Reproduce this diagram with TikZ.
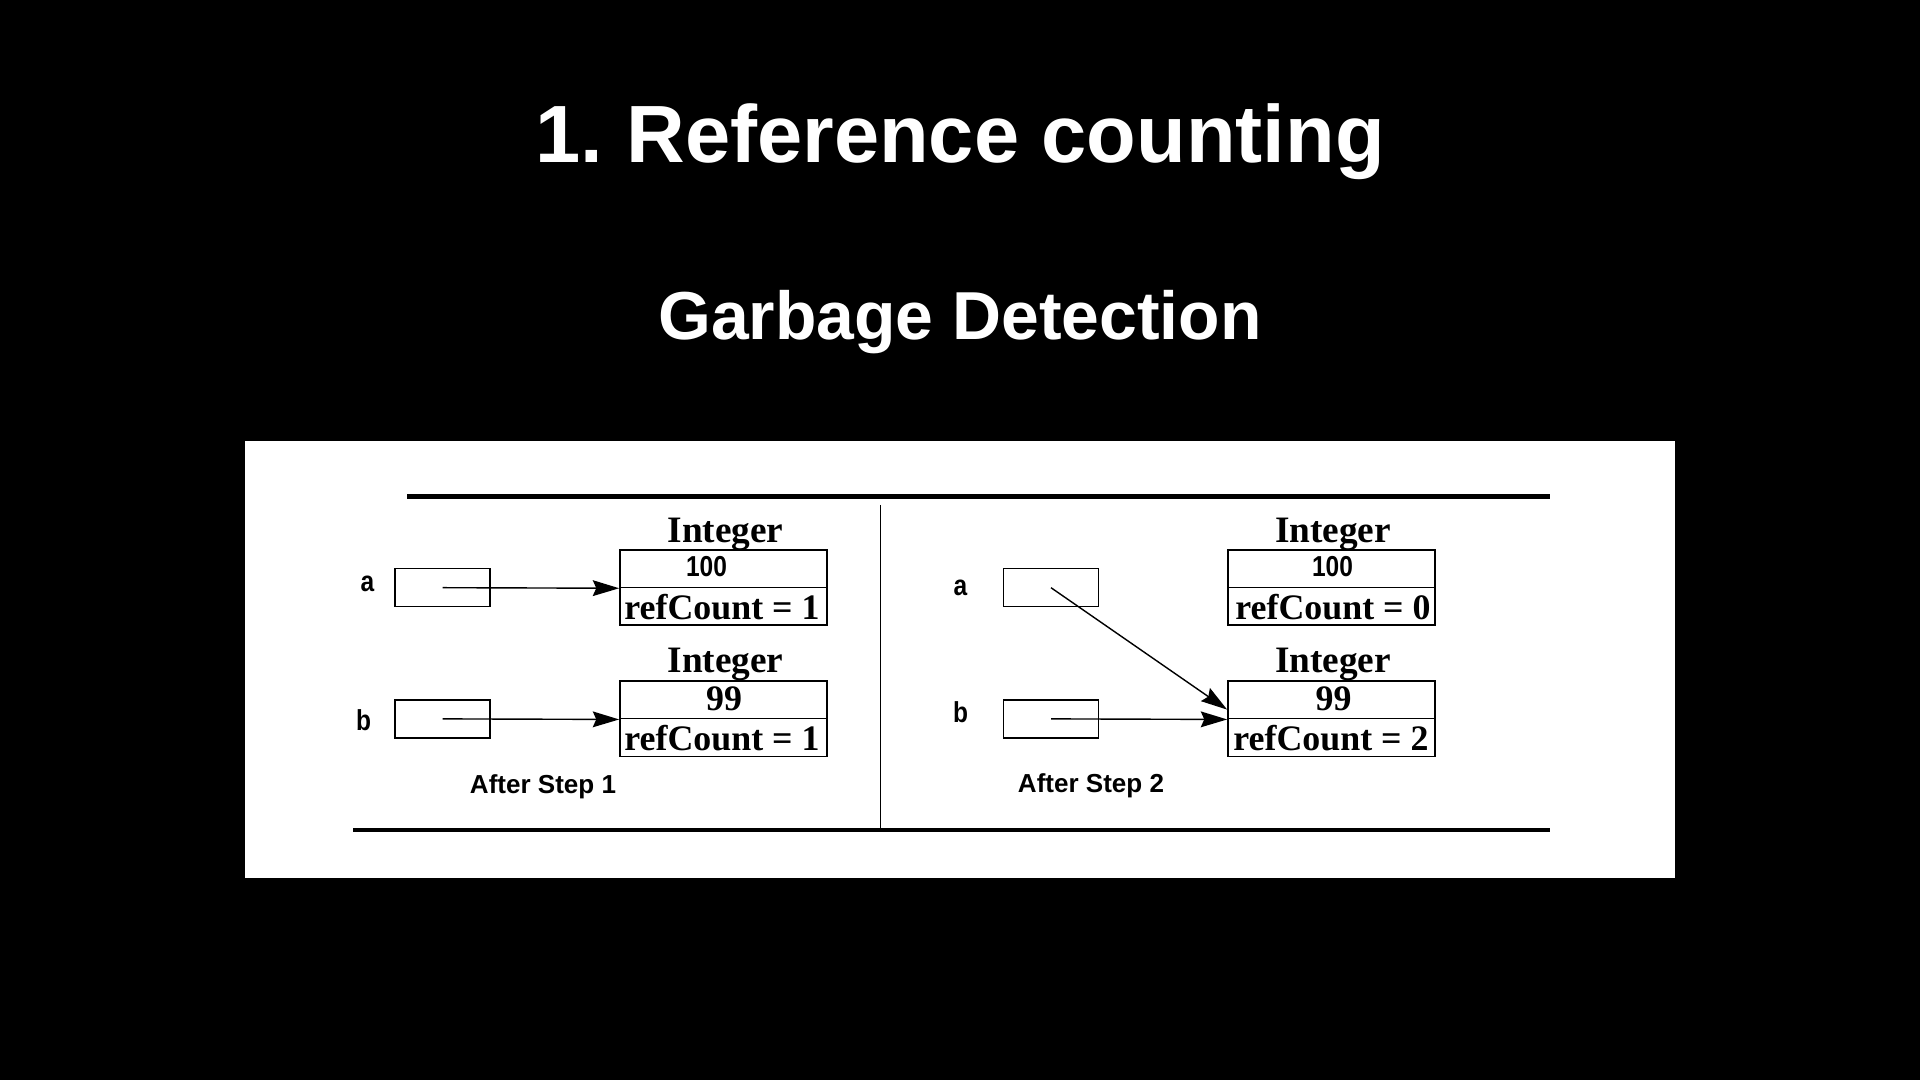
\documentclass[tikz,border=0pt]{standalone}
\usepackage{fontspec}
\setmainfont{Liberation Sans}
\newfontfamily\serifb{Liberation Serif}
\newfontfamily\narrowsans[FakeStretch=0.85]{Liberation Sans}
\usetikzlibrary{arrows.meta,calc}
\begin{document}
\begin{tikzpicture}[x=0.01cm,y=-0.01cm,
  title/.style={text=white,font=\fontsize{23.1}{27}\selectfont\bfseries,inner sep=0pt,anchor=base},
  subtitle/.style={text=white,font=\fontsize{19.3}{23}\selectfont\bfseries,inner sep=0pt,anchor=base},
  rule/.style={line width=1.15pt,black},
  divider/.style={line width=0.5pt,black},
  varbox/.style={draw,line width=0.45pt,minimum width=0.95cm,minimum height=0.38cm,inner sep=0pt},
  objrow/.style={draw,line width=0.45pt,minimum width=2.07cm,minimum height=0.377cm,inner sep=0pt},
  clsname/.style={font=\serifb\fontsize{10.6}{12}\selectfont\bfseries,inner sep=0pt},
  refc/.style={font=\serifb\fontsize{10.2}{12}\selectfont\bfseries,inner sep=0pt},
  sanslbl/.style={font=\fontsize{7.4}{9}\selectfont\bfseries,inner sep=0pt},
  numlbl/.style={font=\narrowsans\fontsize{8.2}{10}\selectfont\bfseries,inner sep=0pt},
  ptr/.style={line width=0.4pt,-{Stealth[length=7.5pt,width=4.5pt,inset=1pt]}}
]
\useasboundingbox (0,0) rectangle (1920,1080);
\fill[black] (0,0) rectangle (1920,1080);
\node[title] (t1) at (960,163) {1.\hspace{-0.08em} Reference counting};
\node[subtitle] (t2) at (960,340) {Garbage Detection};
\fill[white] (244.5,441) rectangle (1675,878);
% rules
\coordinate (tl) at (407,496.5);
\coordinate (tr) at (1550,496.5);
\coordinate (bl) at (353,830);
\coordinate (br) at (1550,830);
\coordinate (vt) at (880.5,505);
\coordinate (vb) at (880.5,830);
\draw[rule] (tl) -- (tr);
\draw[rule] (bl) -- (br);
\draw[divider] (vt) -- (vb);
% ---------- left panel ----------
\node[numlbl] (la) at (367.5,584) {a};
\node[numlbl] (lb) at (363.5,720) {b};
\node[varbox] (LA) at (442.5,587.7) {};
\node[varbox] (LB) at (442.5,718.9) {};
\node[objrow] (L1t) at (723.5,568.6) {};
\node[objrow] (L1b) at (723.5,606.2) {};
\node[objrow] (L2t) at (723.5,699.8) {};
\node[objrow] (L2b) at (723.5,737.5) {};
\node[clsname] (L1c) at (725.5,534) {Integer};
\node[clsname] (L2c) at (725.5,664) {Integer};
\node[numlbl] (L1v) at (706.5,567) {100};
\node[refc] (L2v) at (724,699) {99};
\node[refc] (L1r) at (722,607) {refCount = 1};
\node[refc] (L2r) at (722,738) {refCount = 1};
\node[sanslbl] (L3) at (543,787) {After Step 1};
\draw[ptr] (LA.center) -- (L1t.south west);
\draw[ptr] (LB.center) -- (L2t.south west);
% ---------- right panel ----------
\node[numlbl] (ra) at (960.5,588) {a};
\node[numlbl] (rb) at (960.5,712) {b};
\node[varbox] (RA) at (1051,587.7) {};
\node[varbox] (RB) at (1051,718.9) {};
\node[objrow] (R1t) at (1331.5,568.6) {};
\node[objrow] (R1b) at (1331.5,606.2) {};
\node[objrow] (R2t) at (1331.5,699.8) {};
\node[objrow] (R2b) at (1331.5,737.5) {};
\node[clsname] (R1c) at (1333,534) {Integer};
\node[clsname] (R2c) at (1333,664) {Integer};
\node[numlbl] (R1v) at (1332.5,567) {100};
\node[refc] (R2v) at (1333.5,699) {99};
\node[refc] (R1r) at (1333,607) {refCount = 0};
\node[refc] (R2r) at (1331,738) {refCount = 2};
\node[sanslbl] (R3) at (1091,786) {After Step 2};
\coordinate (Rtip) at ($(R2t.west)!0.5!(R2t.south west)$);
\draw[ptr] (RA.center) -- (Rtip);
\draw[ptr] (RB.center) -- (R2t.south west);
\end{tikzpicture}
\end{document}
